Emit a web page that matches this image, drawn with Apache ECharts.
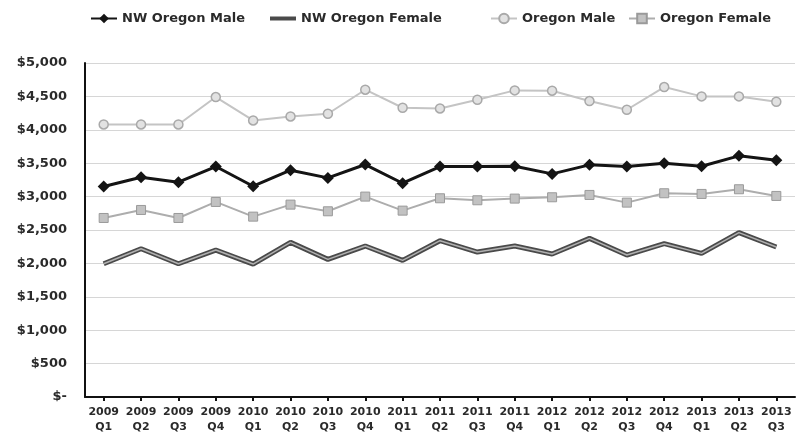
<!DOCTYPE html>
<html>
<head>
<meta charset="utf-8">
<script src="https://cdn.jsdelivr.net/npm/echarts@6/dist/echarts.min.js"></script>
<style>html,body{margin:0;padding:0;background:#fff}#c{width:804px;height:435px}</style>
</head>
<body>
<div id="c"></div>
<script>
var categories = ['2009\nQ1','2009\nQ2','2009\nQ3','2009\nQ4','2010\nQ1','2010\nQ2','2010\nQ3','2010\nQ4','2011\nQ1','2011\nQ2','2011\nQ3','2011\nQ4','2012\nQ1','2012\nQ2','2012\nQ3','2012\nQ4','2013\nQ1','2013\nQ2','2013\nQ3'];
var nwOregonMale   = [3150, 3290, 3215, 3450, 3155, 3395, 3280, 3480, 3200, 3450, 3450, 3455, 3340, 3475, 3450, 3500, 3455, 3610, 3545];
var nwOregonFemale = [1995, 2220, 1995, 2200, 1990, 2315, 2060, 2260, 2045, 2340, 2170, 2260, 2140, 2375, 2125, 2295, 2150, 2460, 2245];
var oregonMale     = [4080, 4080, 4080, 4490, 4140, 4200, 4240, 4600, 4330, 4320, 4450, 4590, 4585, 4430, 4300, 4640, 4500, 4500, 4420];
var oregonFemale   = [2680, 2800, 2680, 2920, 2700, 2880, 2780, 3000, 2790, 2975, 2945, 2970, 2990, 3025, 2910, 3050, 3040, 3110, 3010];
var yTicks = {min: 0, max: 5000, interval: 500};

var font = 'DejaVu Sans';
var chart = echarts.init(document.getElementById('c'), null, {renderer: 'canvas'});
function lg(item, left, h) {
  return {
    data: [item], left: left, top: 12, itemWidth: 26, itemHeight: h || 12, itemGap: 4,
    textStyle: {fontFamily: font, fontWeight: 'bold', fontSize: 13, color: '#2a2a2a'},
    padding: 0
  };
}
chart.setOption({
  animation: false,
  backgroundColor: '#fff',
  legend: [
    lg('NW Oregon Male', 90),
    lg({name: 'NW Oregon Female', icon: 'rect'}, 270, 4),
    lg('Oregon Male', 490),
    lg('Oregon Female', 628)
  ],
  grid: {left: 85, right: 9, top: 63, bottom: 38},
  xAxis: {
    type: 'category', data: categories, boundaryGap: true,
    axisLine: {lineStyle: {color: '#111', width: 2}},
    axisTick: {show: true, alignWithLabel: true, length: 4, lineStyle: {color: '#111', width: 2}},
    axisLabel: {fontFamily: font, fontWeight: 'bold', fontSize: 11, color: '#2a2a2a', lineHeight: 15, margin: 8, interval: 0}
  },
  yAxis: {
    type: 'value', min: yTicks.min, max: yTicks.max, interval: yTicks.interval,
    axisLine: {show: true, lineStyle: {color: '#111', width: 2}},
    axisTick: {show: false},
    splitLine: {lineStyle: {color: '#d6d6d6', width: 1}},
    axisLabel: {fontFamily: font, fontWeight: 'bold', fontSize: 13, color: '#2a2a2a', margin: 18,
      formatter: function (v) { return v === 0 ? '$-' : '$' + v.toLocaleString('en-US'); }}
  },
  series: [
    {name: 'NW Oregon Female', type: 'line', data: nwOregonFemale, symbol: 'none',
      lineStyle: {color: '#4a4a4a', width: 5}, itemStyle: {color: '#4a4a4a'}, z: 2},
    {name: 'NW Oregon Female inner', type: 'line', data: nwOregonFemale, symbol: 'none',
      lineStyle: {color: '#b0b0b0', width: 1.5}, itemStyle: {color: '#b0b0b0'}, z: 3, silent: true},
    {name: 'Oregon Female', type: 'line', data: oregonFemale, symbol: 'rect', symbolSize: 9,
      lineStyle: {color: '#adadad', width: 2}, itemStyle: {color: '#c2c2c2', borderColor: '#9a9a9a', borderWidth: 1}, z: 4},
    {name: 'Oregon Male', type: 'line', data: oregonMale, symbol: 'circle', symbolSize: 9,
      lineStyle: {color: '#c4c4c4', width: 2}, itemStyle: {color: '#e2e2e2', borderColor: '#a9a9a9', borderWidth: 1.5}, z: 4},
    {name: 'NW Oregon Male', type: 'line', data: nwOregonMale, symbol: 'diamond', symbolSize: 12,
      lineStyle: {color: '#141414', width: 3}, itemStyle: {color: '#141414'}, z: 5}
  ]
});
</script>
</body>
</html>
